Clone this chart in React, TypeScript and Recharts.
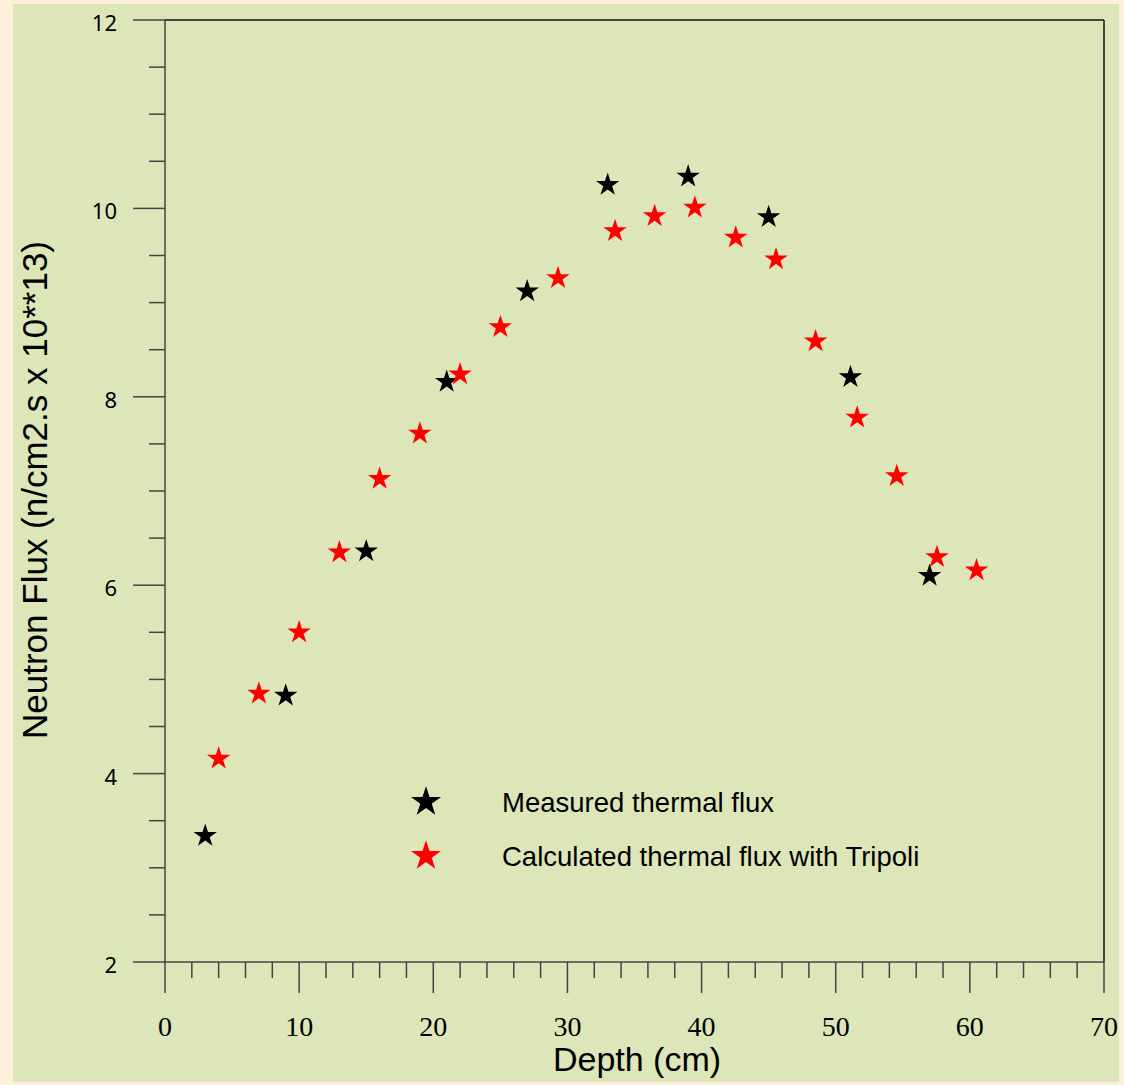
import React from 'react';
import { ScatterChart, Scatter, XAxis, YAxis, ReferenceLine, Legend, Symbols } from 'recharts';

const measuredDepth = [3, 9, 15, 21, 27, 33, 39, 45, 51.1, 57];
const measuredFlux = [3.35, 4.84, 6.37, 8.17, 9.13, 10.26, 10.35, 9.92, 8.22, 6.11];
const calcDepth = [4, 7, 10, 13, 16, 19, 22, 25, 29.3, 33.55, 36.5, 39.5, 42.55, 45.55, 48.5, 51.6, 54.55, 57.55, 60.5];
const calcFlux = [4.17, 4.86, 5.51, 6.36, 7.14, 7.62, 8.25, 8.75, 9.27, 9.77, 9.93, 10.02, 9.7, 9.47, 8.6, 7.79, 7.17, 6.31, 6.17];

const xTicks = [0, 2, 4, 6, 8, 10, 12, 14, 16, 18, 20, 22, 24, 26, 28, 30, 32, 34, 36, 38, 40, 42, 44, 46, 48, 50, 52, 54, 56, 58, 60, 62, 64, 66, 68, 70];
const xMajorLabels = [0, 10, 20, 30, 40, 50, 60, 70];
const yTicks = [2, 2.5, 3, 3.5, 4, 4.5, 5, 5.5, 6, 6.5, 7, 7.5, 8, 8.5, 9, 9.5, 10, 10.5, 11, 11.5, 12];
const yMajorLabels = [2, 4, 6, 8, 10, 12];

const seriesNames = ['Measured thermal flux', 'Calculated thermal flux with Tripoli'];

const measured = measuredDepth.map((d, i) => ({ x: d, y: measuredFlux[i] }));
const calculated = calcDepth.map((d, i) => ({ x: d, y: calcFlux[i] }));

const AXIS = '#444';

const XTick = (props: any) => {
  const { x, y, payload } = props;
  const v = payload.value;
  const major = xMajorLabels.includes(v);
  return (
    <g>
      <line x1={x} x2={x} y1={y} y2={y + (major ? 31 : 16)} stroke={AXIS} strokeWidth={1.5} />
      {major && (
        <text x={x} y={y + 74} textAnchor="middle" fontFamily="'Liberation Serif', serif" fontSize={28} fill="#000">
          {v}
        </text>
      )}
    </g>
  );
};

const YTick = (props: any) => {
  const { x, y, payload } = props;
  const v = payload.value;
  const major = yMajorLabels.includes(v);
  return (
    <g>
      <line x1={x} x2={x - (major ? 32 : 16)} y1={y} y2={y} stroke={AXIS} strokeWidth={1.5} />
      {major && (
        <text x={x - 48} y={y + 11} textAnchor="end" fontFamily="'Noto Sans', sans-serif" fontSize={22} fill="#000">
          {v}
        </text>
      )}
    </g>
  );
};

const makeStar = (color: string) => (props: any) => {
  const { cx, cy } = props;
  return <Symbols type="star" size={170} cx={cx} cy={cy + 1} fill={color} />;
};

const LegendContent = () => (
  <svg width={560} height={110} style={{ display: 'block', overflow: 'visible' }}>
    <Symbols type="star" size={280} cx={36} cy={32} fill="#000" />
    <text x={112} y={42} fontFamily="'Liberation Sans', Arial, sans-serif" fontSize={27.5} fill="#000">
      {seriesNames[0]}
    </text>
    <Symbols type="star" size={280} cx={36} cy={86} fill="#ff0000" />
    <text x={112} y={96} fontFamily="'Liberation Sans', Arial, sans-serif" fontSize={27.5} fill="#000">
      {seriesNames[1]}
    </text>
  </svg>
);

export default function App() {
  return (
    <div style={{ position: 'relative', width: 1124, height: 1085, background: '#fcf0dc', overflow: 'hidden' }}>
      <style>{`body{margin:0}`}</style>
      <div style={{ position: 'absolute', left: 13, top: 4, width: 1106, height: 1078, background: '#dce6b9' }} />
      <div style={{ position: 'absolute', left: 0, top: 0 }}>
        <ScatterChart width={1124} height={1085} margin={{ top: 20, right: 20, bottom: 63, left: 65 }}>
          <XAxis
            type="number"
            dataKey="x"
            domain={[0, 70]}
            ticks={xTicks}
            interval={0}
            tickSize={0}
            tickMargin={0}
            tickLine={false}
            tick={<XTick />}
            height={60}
            axisLine={{ stroke: AXIS, strokeWidth: 1.5 }}
            allowDataOverflow
          />
          <YAxis
            type="number"
            dataKey="y"
            domain={[2, 12]}
            ticks={yTicks}
            interval={0}
            tickSize={0}
            tickMargin={0}
            tickLine={false}
            tick={<YTick />}
            width={100}
            axisLine={{ stroke: AXIS, strokeWidth: 1.5 }}
            allowDataOverflow
          />
          <ReferenceLine y={12} stroke="#111" strokeWidth={1.5} />
          <ReferenceLine x={70} stroke="#111" strokeWidth={1.5} />
          <Scatter name={seriesNames[0]} data={measured} fill="#000" shape={makeStar('#000')} isAnimationActive={false} />
          <Scatter name={seriesNames[1]} data={calculated} fill="#ff0000" shape={makeStar('#ff0000')} isAnimationActive={false} />
          <Legend
            layout="vertical"
            align="center"
            verticalAlign="middle"
            content={<LegendContent />}
            wrapperStyle={{ position: 'absolute', left: 390, top: 770, width: 560, height: 110 }}
          />
          <text x={637} y={1071} textAnchor="middle" fontFamily="'Liberation Sans', Arial, sans-serif" fontSize={34} fill="#000">
            Depth (cm)
          </text>
          <text
            x={0}
            y={0}
            transform="translate(47,490) rotate(-90)"
            textAnchor="middle"
            fontFamily="'Liberation Sans', Arial, sans-serif"
            fontSize={35}
            fill="#000"
          >
            Neutron Flux (n/cm2.s x 10**13)
          </text>
        </ScatterChart>
      </div>
    </div>
  );
}
